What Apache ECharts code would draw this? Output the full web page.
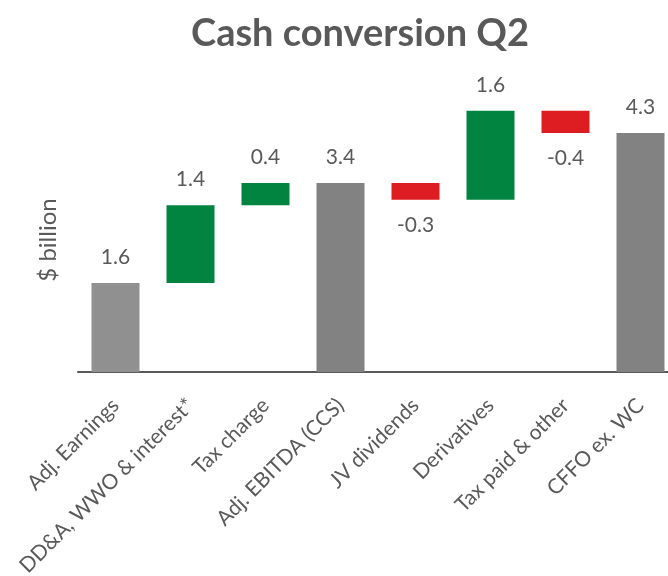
<!DOCTYPE html>
<html>
<head>
<meta charset="utf-8">
<script src="https://cdn.jsdelivr.net/npm/echarts@6/dist/echarts.min.js"></script>
<style>
  html, body { margin: 0; padding: 0; background: #fff; }
  #main { width: 668px; height: 576px; }
</style>
</head>
<body>
<div id="main"></div>
<script>
// waterfall data, $ billion
var categories = ['Adj. Earnings', 'DD&A, WWO & interest*', 'Tax charge', 'Adj. EBITDA (CCS)',
                  'JV dividends', 'Derivatives', 'Tax paid & other', 'CFFO ex. WC'];
var values = [1.6, 1.4, 0.4, 3.4, -0.3, 1.6, -0.4, 4.3];
var kinds = ['total', 'delta', 'delta', 'total', 'delta', 'delta', 'delta', 'total'];
var totalColors = ['#909090', null, null, '#828282', null, null, null, '#828282'];

var GREEN = '#00843f', RED = '#dd1d21', TEXT = '#595959';

// build invisible base + visible bar from running total
var base = [], visible = [];
var running = 0;
for (var i = 0; i < values.length; i++) {
    var v = values[i];
    if (kinds[i] === 'total') {
        running = v;
        base.push(0);
        visible.push({ value: v, itemStyle: { color: totalColors[i] }, label: { position: 'top' } });
    } else {
        var start = running;
        running = running + v;
        base.push(Math.min(start, running));
        visible.push({
            value: Math.abs(v),
            itemStyle: { color: v >= 0 ? GREEN : RED },
            label: { position: v >= 0 ? 'top' : 'bottom' }
        });
    }
}

var myChart = echarts.init(document.getElementById('main'));

var option = {
    animation: false,
    title: {
        text: 'Cash conversion Q2',
        left: 186,
        top: 10,
        textStyle: { fontFamily: 'Lato', fontWeight: 'bold', fontSize: 38, color: TEXT }
    },
    grid: { left: 78, width: 600, top: 94, bottom: 204, outerBoundsMode: 'none' },
    xAxis: {
        type: 'category',
        data: categories,
        axisLine: { lineStyle: { color: TEXT, width: 2 } },
        axisTick: { show: false },
        axisLabel: {
            interval: 0,
            rotate: 45,
            margin: 30,
            fontFamily: 'Lato',
            fontSize: 21,
            color: TEXT
        }
    },
    yAxis: {
        type: 'value',
        min: 0,
        max: 5,
        name: '$ billion',
        nameLocation: 'middle',
        nameRotate: 90,
        nameGap: 18,
        nameTextStyle: { fontFamily: 'Lato', fontSize: 24, color: TEXT, padding: [0, 14, 0, 0] },
        axisLine: { show: false },
        axisTick: { show: false },
        axisLabel: { show: false },
        splitLine: { show: false }
    },
    series: [
        {
            type: 'bar',
            stack: 'wf',
            data: base,
            itemStyle: { color: 'transparent' },
            silent: true
        },
        {
            type: 'bar',
            stack: 'wf',
            barWidth: '64%',
            data: visible,
            label: {
                show: true,
                distance: 15,
                fontFamily: 'Lato',
                fontSize: 21,
                color: TEXT,
                formatter: function (p) { return values[p.dataIndex].toFixed(1); }
            }
        }
    ]
};

myChart.setOption(option);
</script>
</body>
</html>
